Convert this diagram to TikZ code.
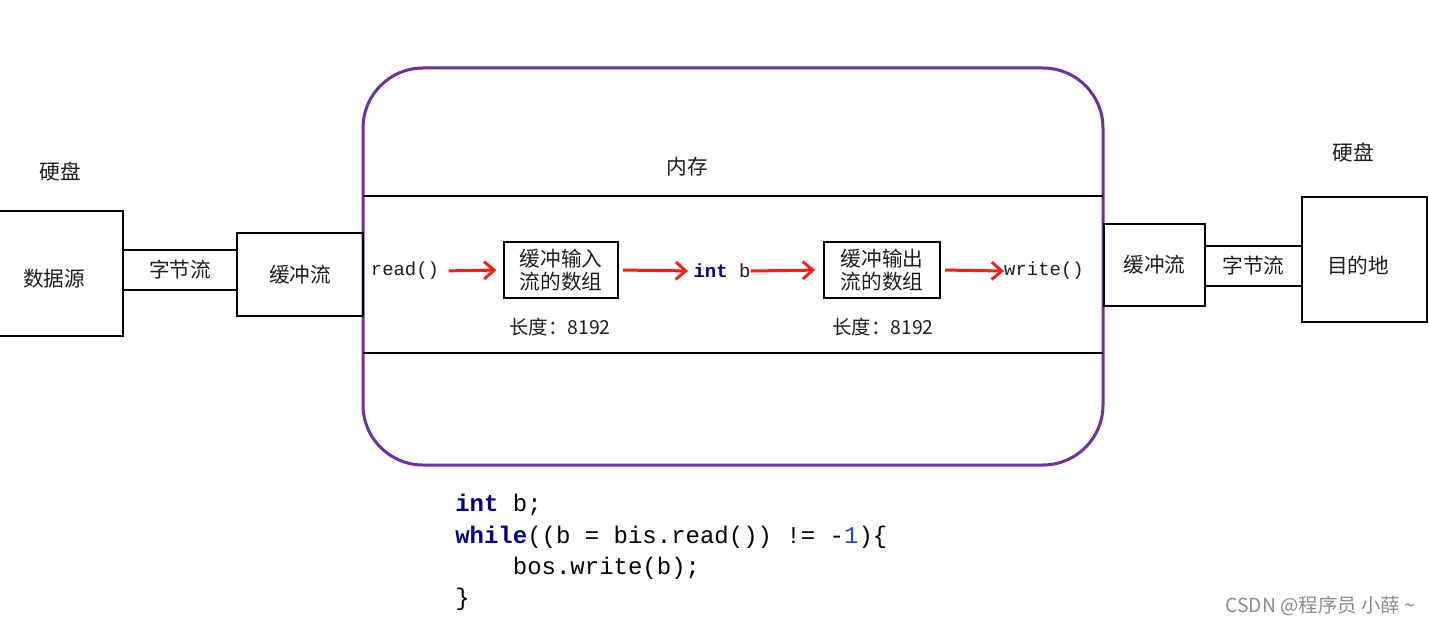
\documentclass[tikz,border=0pt]{standalone}
\usepackage{fontspec}
\setmainfont{Noto Sans CJK SC}
\newfontfamily\cjk{Noto Sans CJK SC}
\newfontfamily\codefont{Liberation Mono}
\usetikzlibrary{arrows.meta}
\definecolor{memborder}{RGB}{112,48,160}
\definecolor{arrowred}{RGB}{250,30,20}
\definecolor{kwblue}{RGB}{0,0,140}
\definecolor{numblue}{RGB}{30,70,235}
\definecolor{txt}{RGB}{30,30,30}
\tikzset{
  box/.style={draw=black, line width=1.5pt, inner sep=0pt, text=txt, font=\cjk\fontsize{15.5}{18}\selectfont, align=center},
  label/.style={inner sep=0pt, text=txt, font=\cjk\fontsize{15.5}{18}\selectfont},
  lenlabel/.style={inner sep=0pt, text=txt, font=\cjk\fontsize{14.5}{16}\selectfont},
  codetxt/.style={inner sep=0pt, text=txt, font=\codefont\fontsize{14.2}{16}\selectfont},
  codeline/.style={inner sep=0pt, anchor=west, text=black, font=\codefont\fontsize{18}{20}\selectfont},
  redarrow/.style={draw=arrowred, line width=2.25pt, -{Straight Barb[length=7.5pt,width=13pt,line width=2.2pt]}}
}
\newcommand{\kwd}[1]{\textcolor{kwblue}{\bfseries #1}}
\begin{document}
\begin{tikzpicture}[x=0.75pt,y=-0.75pt]
\useasboundingbox (0,0) rectangle (1429,624);
\fill[white] (0,0) rectangle (1429,624);

% memory region
\draw[memborder, line width=2.25pt, rounded corners=45pt] (363,68) rectangle (1103,465);
\coordinate (l1a) at (363,196); \coordinate (l1b) at (1103,196);
\coordinate (l2a) at (363,353); \coordinate (l2b) at (1103,353);
\draw[black, line width=1.5pt] (l1a) -- (l1b);
\draw[black, line width=1.5pt] (l2a) -- (l2b);
\node[label] (mem) at (687,167) {内存};

% left side
\node[label] (diskL) at (60,172) {硬盘};
\node[box, minimum width=103.5pt, minimum height=93.75pt] (src) at (54,273.5) {};
\node[label] (srcText) at (54,279) {数据源};
\node[box, minimum width=85.5pt, minimum height=30pt] (bytesL) at (180,270) {字节流};
\node[box, minimum width=94.5pt, minimum height=62.25pt] (bufL) at (300,274.5) {缓冲流};

% inside memory
\node[codetxt] (read) at (405,271) {read()};
\node[box, minimum width=85.5pt, minimum height=42pt, font=\cjk\fontsize{15.5}{17.5}\selectfont] (inarr) at (561,270) {缓冲输入\\流的数组};
\node[lenlabel] (len1) at (560,327) {长度：8192};
\node[codetxt] (intb) at (722,271) {\textcolor{kwblue}{\bfseries int} b};
\node[box, minimum width=87pt, minimum height=42pt, font=\cjk\fontsize{15.5}{17.5}\selectfont] (outarr) at (882,270) {缓冲输出\\流的数组};
\node[lenlabel] (len2) at (883,327) {长度：8192};
\node[codetxt] (write) at (1044,271) {write()};

\draw[redarrow, shorten <=7pt, shorten >=5pt] (read.east) -- (inarr.west);
\draw[redarrow, shorten <=3pt, shorten >=4pt] (inarr.east) -- (intb.west);
\draw[redarrow, shorten <=0pt, shorten >=6pt] (intb.east) -- (outarr.west);
\draw[redarrow, shorten <=3pt, shorten >=0pt] (outarr.east) -- (write.west);

% right side
\node[box, minimum width=75.75pt, minimum height=61.5pt] (bufR) at (1154.5,265) {缓冲流};
\node[box, minimum width=72.75pt, minimum height=30pt] (bytesR) at (1253.5,266) {字节流};
\node[box, minimum width=93.75pt, minimum height=93.75pt] (dst) at (1364.5,259.5) {};
\node[label] (dstText) at (1358,266) {目的地};
\node[label] (diskR) at (1353,153) {硬盘};

% code
\node[codeline] (c1) at (455,505) {\kwd{int} b;};
\node[codeline] (c2) at (455,537) {\kwd{while}((b = bis.read()) != -\textcolor{numblue}{1})\{};
\node[codeline] (c3) at (455,568) {\phantom{xxxx}bos.write(b);};
\node[codeline] (c4) at (455,599) {\}};

% watermark
\node[inner sep=0pt, anchor=east, text=black!45, font=\cjk\fontsize{14.5}{16}\selectfont] (wm) at (1415,606) {CSDN @程序员 小薛 \textasciitilde};
\end{tikzpicture}
\end{document}
